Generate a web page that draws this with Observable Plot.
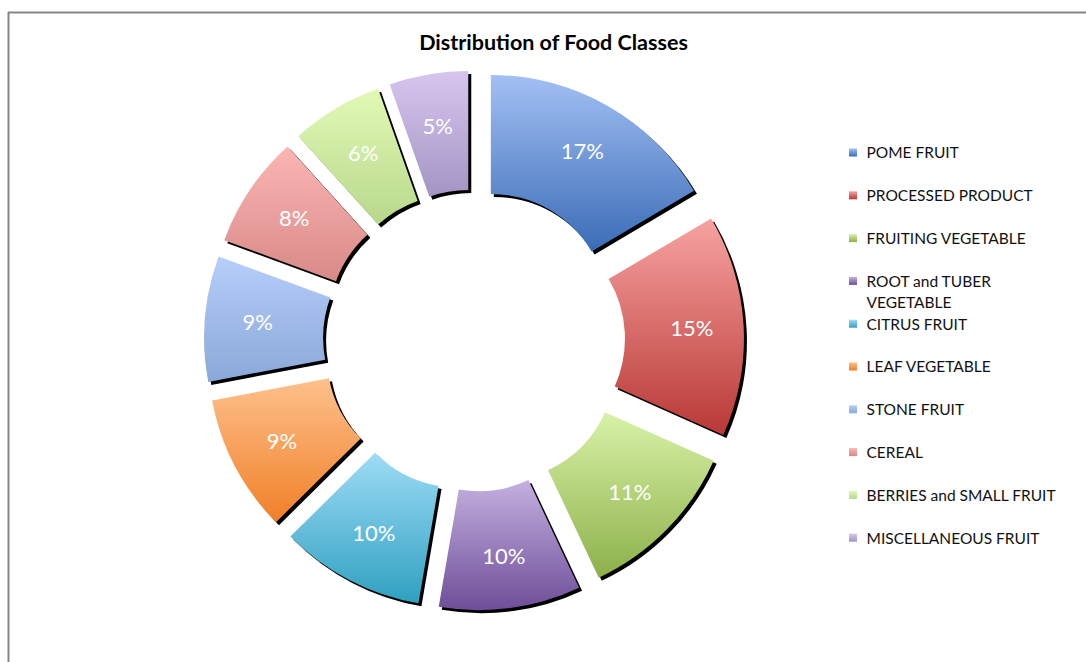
<!DOCTYPE html>
<html>
<head>
<meta charset="utf-8">
<script src="https://cdn.jsdelivr.net/npm/d3@7"></script>
<script src="https://cdn.jsdelivr.net/npm/@observablehq/plot@0.6"></script>
<style>
  body { margin: 0; background: #fff; }
  svg { display: block; }
</style>
</head>
<body>
<div id="chart"></div>
<script>
// ---- data (shares, consistent with the rounded labels) ----
const categories = [
  "POME FRUIT", "PROCESSED PRODUCT", "FRUITING VEGETABLE", "ROOT and TUBER VEGETABLE",
  "CITRUS FRUIT", "LEAF VEGETABLE", "STONE FRUIT", "CEREAL",
  "BERRIES and SMALL FRUIT", "MISCELLANEOUS FRUIT"
];
const shares = [16.5, 15.2, 11.3, 9.7, 9.9, 9.4, 8.6, 7.7, 6.3, 5.4];
const colorTop = ["#a3c0f4", "#f7a3a1", "#d8f2a8", "#c4b0e0", "#9edcf6", "#fec08c", "#b6cefa", "#fbb6b4", "#e2f9b6", "#d6c6ee"];
const colorBottom = ["#3a6cb6", "#b83836", "#8db04a", "#6e4e98", "#2fa0c0", "#f08028", "#8aa8d8", "#d88a88", "#b8d88c", "#a494c4"];
const chartTitle = "Distribution of Food Classes";

// ---- layout ----
const W = 1086, H = 662;
const cx = 474, cy = 340.5, rOuter = 236, rInner = 117, explode = 34, labelFrac = 0.56;
const legendX = 849, legendTextX = 866, legendTop = 152.5, legendStep = 42.8, swatch = 8;
const legendFont = 15.5;
const fontFamily = "Lato, 'Liberation Sans', sans-serif";

const data = categories.map((c, i) => ({category: c, value: shares[i], top: colorTop[i], bottom: colorBottom[i], i}));
const total = d3.sum(shares);
const pie = d3.pie().sort(null).value(d => d.value)(data);
const slices = pie.map(a => {
  const mid = (a.startAngle + a.endAngle) / 2;
  const lr = rInner + (rOuter - rInner) * labelFrac + explode;
  return {
    ...a.data,
    startAngle: a.startAngle, endAngle: a.endAngle,
    ox: Math.sin(mid) * explode, oy: -Math.cos(mid) * explode,
    lx: cx + Math.sin(mid) * lr, ly: cy - Math.cos(mid) * lr,
    label: Math.round(a.data.value / total * 100 + 1e-9) + "%"
  };
});

function wrap(s, max) {
  if (s.length <= max) return s;
  const cut = s.lastIndexOf(" ", max);
  return s.slice(0, cut) + "\n" + s.slice(cut + 1);
}
const legendItems = data.map((d, i) => ({...d, y: legendTop + i * legendStep, text: wrap(d.category, 23)}));

function donut(index, scales) {
  const g = d3.create("svg:g");
  const defs = g.append("defs");
  slices.forEach((s, i) => {
    const grad = defs.append("linearGradient").attr("id", "grad" + i)
      .attr("x1", 0).attr("y1", 0).attr("x2", 0).attr("y2", 1);
    grad.append("stop").attr("offset", "0%").attr("stop-color", s.top);
    grad.append("stop").attr("offset", "100%").attr("stop-color", s.bottom);
  });
  const arc = d3.arc().innerRadius(rInner).outerRadius(rOuter);
  const X = scales.x(cx), Y = scales.y(cy);
  g.selectAll("path.shadow").data(slices).join("path")
    .attr("class", "shadow")
    .attr("d", arc)
    .attr("transform", s => `translate(${X + s.ox + 3},${Y + s.oy + 3})`)
    .attr("fill", "#000");
  g.selectAll("path.slice").data(slices).join("path")
    .attr("class", "slice")
    .attr("d", arc)
    .attr("transform", s => `translate(${X + s.ox},${Y + s.oy})`)
    .attr("fill", (s, i) => `url(#grad${i})`);
  // legend swatches
  g.selectAll("rect.sw").data(legendItems).join("rect")
    .attr("class", "sw")
    .attr("x", scales.x(legendX))
    .attr("y", d => scales.y(d.y) - swatch / 2)
    .attr("width", swatch).attr("height", swatch)
    .attr("fill", (d, i) => `url(#grad${i})`);
  return g.node();
}

const chart = Plot.plot({
  width: W, height: H, margin: 0,
  x: {domain: [0, W], range: [0, W], axis: null},
  y: {domain: [0, H], range: [0, H], axis: null},
  style: {fontFamily, background: "#fff"},
  marks: [
    Plot.ruleY([12], {x1: 8, x2: W, stroke: "#858585", strokeWidth: 2}),
    Plot.ruleX([8], {y1: 12, y2: H, stroke: "#858585", strokeWidth: 2}),
    Plot.text([chartTitle], {x: 553, y: 43, text: d => d, fontSize: 21.5, fontWeight: "bold", fill: "#000"}),
    donut,
    Plot.text(slices, {x: "lx", y: "ly", text: "label", fill: "#fff", fontSize: 22}),
    Plot.text(legendItems, {x: legendTextX, y: "y", text: "text", textAnchor: "start", lineAnchor: "top", dy: -9.5, lineHeight: 1.35, fontSize: legendFont, fill: "#111"})
  ]
});
document.getElementById("chart").appendChild(chart);
</script>
</body>
</html>
